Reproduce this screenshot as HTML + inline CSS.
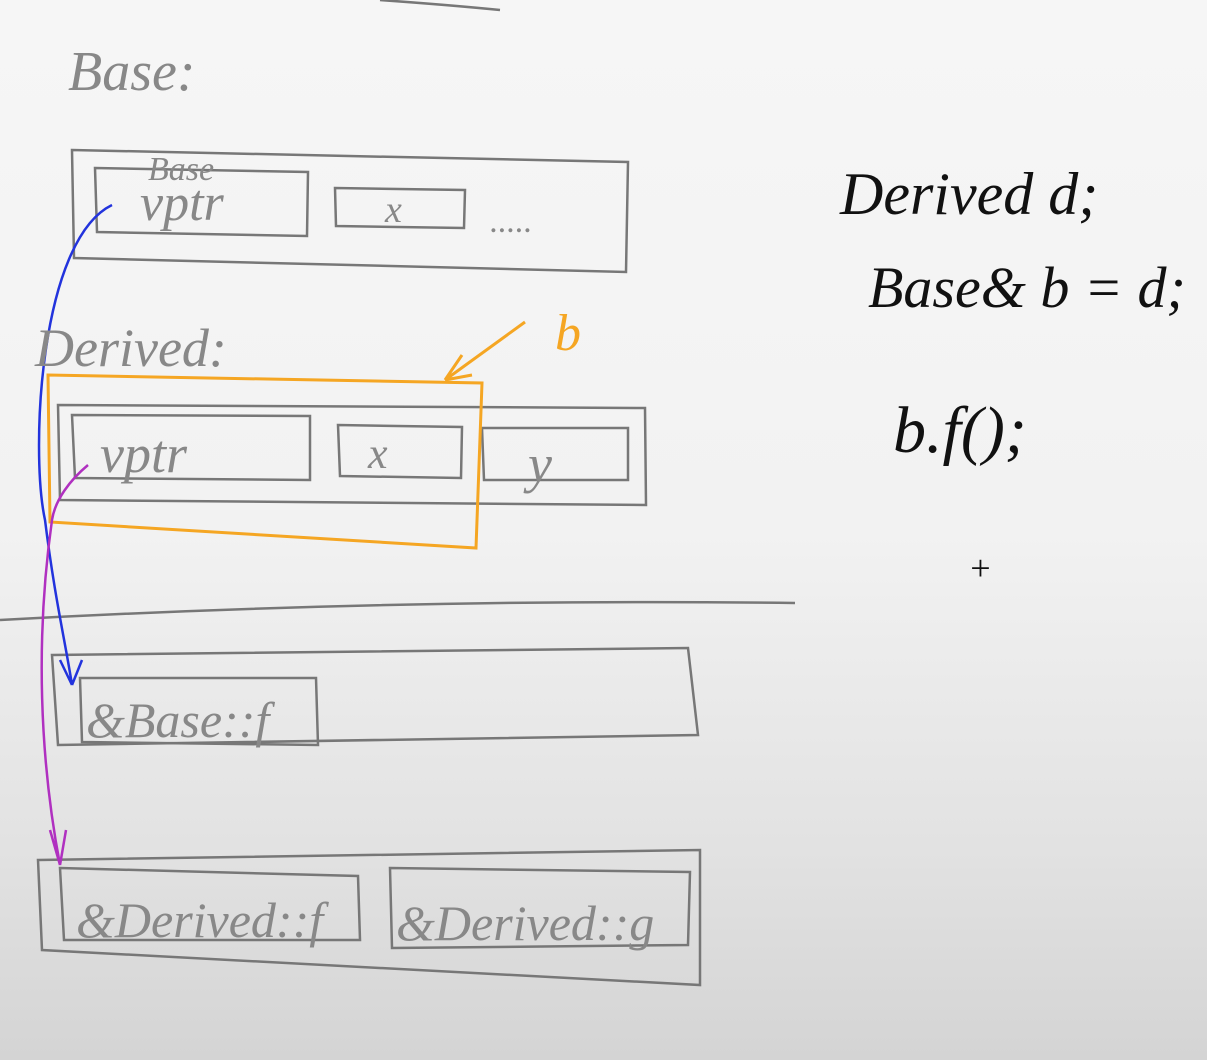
<!DOCTYPE html>
<html><head><meta charset="utf-8"><style>
html,body{margin:0;padding:0;}
body{width:1207px;height:1060px;overflow:hidden;background:linear-gradient(#f6f6f6 0%,#f2f2f2 50%,#e2e2e2 80%,#d4d4d4 100%);}
svg{position:absolute;left:0;top:0;}
text{font-family:"Liberation Serif",serif;font-style:italic;}
</style></head><body>
<svg width="1207" height="1060" viewBox="0 0 1207 1060">
<g fill="none" stroke="#777" stroke-width="2.5">
<path d="M380 0 Q450 5 500 10"/>
<path d="M72 150 L628 162 L626 272 L74 258 Z"/>
<path d="M95 168 L308 172 L307 236 L97 232 Z"/>
<path d="M335 188 L465 190 L464 228 L336 226 Z"/>
<path d="M58 405 L645 408 L646 505 L60 500 Z"/>
<path d="M72 415 L310 416 L310 480 L75 478 Z"/>
<path d="M338 425 L462 427 L461 478 L340 476 Z"/>
<path d="M482 428 L628 428 L628 480 L484 480 Z"/>
<path d="M0 620 Q400 598 795 603"/>
<path d="M52 655 L688 648 L698 735 L58 745 Z"/>
<path d="M80 678 L316 678 L318 745 L82 742 Z"/>
<path d="M38 860 L700 850 L700 985 L42 950 Z"/>
<path d="M60 868 L358 876 L360 940 L64 940 Z"/>
<path d="M390 868 L690 872 L688 945 L392 948 Z"/>
</g>
<g fill="none" stroke="#f5a623" stroke-width="3">
<path d="M48 375 L482 383 L476 548 L50 522 Z"/>
<path d="M525 322 L445 380 M445 380 L462 355 M445 380 L472 375"/>
</g>
<text x="555" y="350" fill="#f5a623" font-size="52">b</text>
<path d="M112 205 C40 240 30 450 45 520 C55 600 65 640 72 685 M72 685 L60 660 M72 685 L82 660" fill="none" stroke="#2233dd" stroke-width="2.5"/>
<path d="M88 465 C70 480 55 500 52 520 C35 640 40 760 60 865 M60 865 L50 830 M60 865 L66 830" fill="none" stroke="#b030c0" stroke-width="2.5"/>
<g fill="#888">
<text x="68" y="90" font-size="56">Base:</text>
<text x="148" y="180" font-size="34">Base</text>
<text x="140" y="220" font-size="52">vptr</text>
<text x="385" y="222" font-size="38">x</text>
<text x="490" y="232" font-size="34">.....</text>
<text x="35" y="366" font-size="54">Derived:</text>
<text x="100" y="472" font-size="54">vptr</text>
<text x="368" y="468" font-size="44">x</text>
<text x="528" y="482" font-size="54">y</text>
<text x="86" y="737" font-size="50">&amp;Base::f</text>
<text x="76" y="937" font-size="50">&amp;Derived::f</text>
<text x="396" y="940" font-size="50">&amp;Derived::g</text>
</g>
<g fill="#111">
<text x="840" y="214" font-size="60">Derived d;</text>
<text x="868" y="307" font-size="58">Base&amp; b = d;</text>
<text x="893" y="452" font-size="66">b.f();</text>
<text x="968" y="580" font-size="36" font-style="normal">+</text>
</g>
</svg>
</body></html>
